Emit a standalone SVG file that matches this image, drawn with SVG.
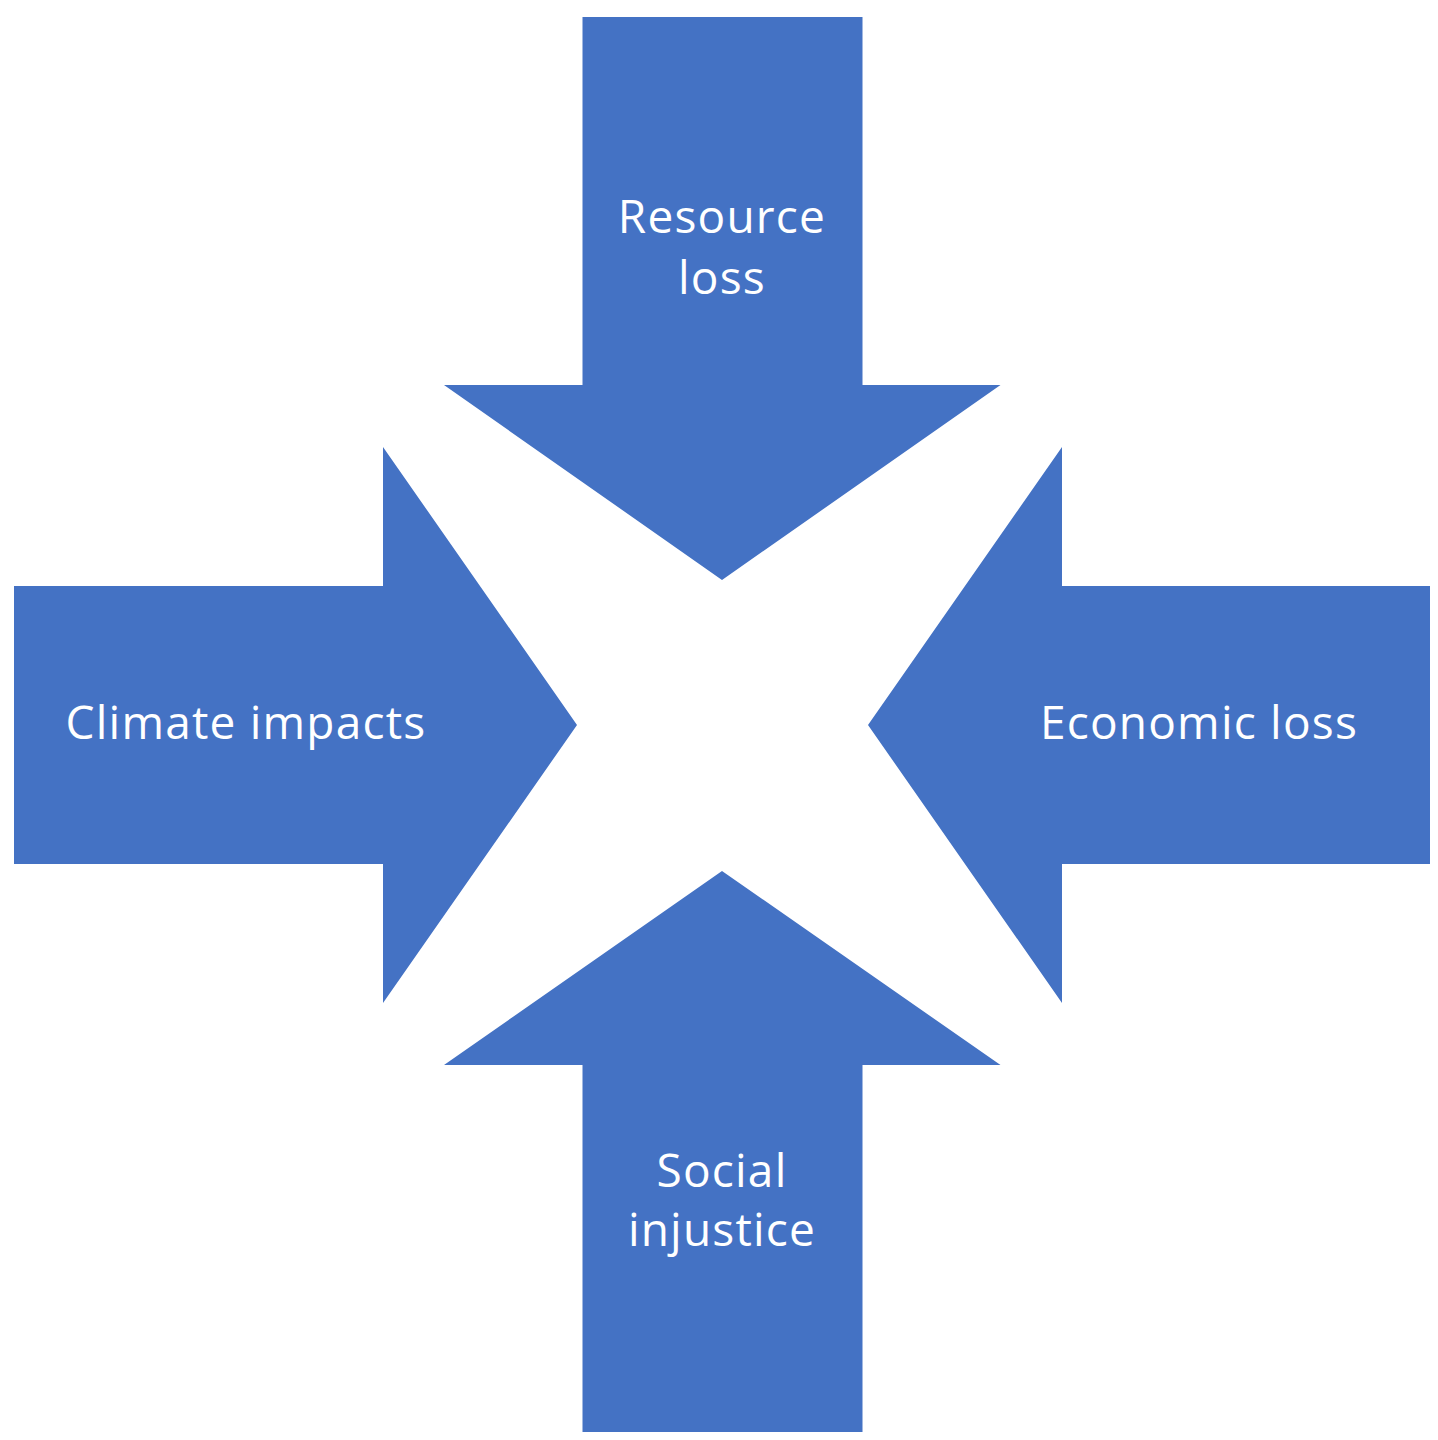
<svg xmlns="http://www.w3.org/2000/svg" width="1438" height="1440" viewBox="0 0 1438 1440">
<style>
.arrow{fill:#4472C4;}
.lbl{fill:#FFFFFF;font-family:"Open Sans","Liberation Sans",sans-serif;font-size:46px;letter-spacing:1.2px;text-anchor:middle;}
</style>
<rect width="1438" height="1440" fill="#FFFFFF"/>
<g id="node-resource-loss">
<polygon class="arrow" points="582.5,17 862.5,17 862.5,385 1000.5,385 722,580 444,385 582.5,385"/>
<text class="lbl" x="722" y="233">Resource</text>
<text class="lbl" x="722" y="294">loss</text>
</g>
<g id="node-climate-impacts">
<polygon class="arrow" points="14,586 383,586 383,447 577,725 383,1003 383,864 14,864"/>
<text class="lbl" x="246" y="739">Climate impacts</text>
</g>
<g id="node-economic-loss">
<polygon class="arrow" points="1430,586 1062,586 1062,447 868,725 1062,1003 1062,864 1430,864"/>
<text class="lbl" x="1199" y="739">Economic loss</text>
</g>
<g id="node-social-injustice">
<polygon class="arrow" points="582.5,1432 862.5,1432 862.5,1065 1000.5,1065 722,871 444,1065 582.5,1065"/>
<text class="lbl" x="722" y="1187">Social</text>
<text class="lbl" x="722" y="1246">injustice</text>
</g>
<g id="connectors"></g>
</svg>
